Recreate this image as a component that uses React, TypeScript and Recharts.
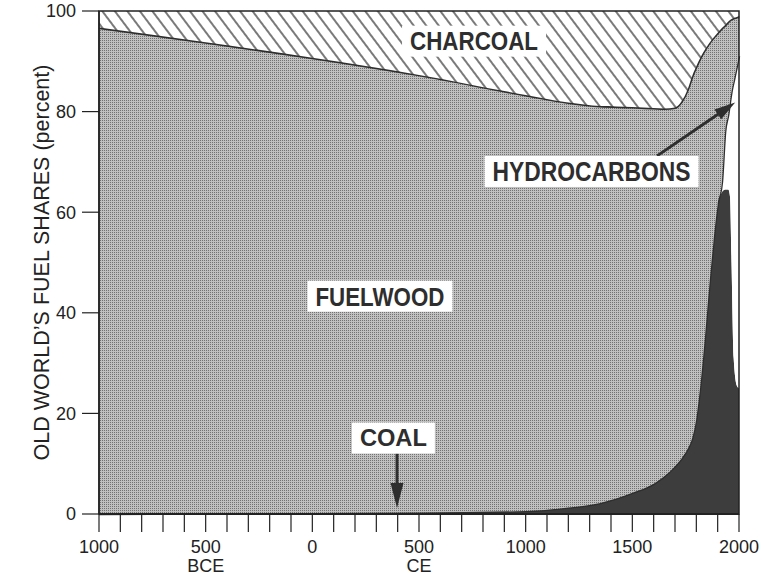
import React from 'react';
import {
    AreaChart, Area, XAxis, YAxis, ReferenceArea, ReferenceDot, ReferenceLine, Label
} from 'recharts';

// shares in percent (bottom to top: coal, hydrocarbons, fuelwood, charcoal)
const years = [-1000, -500, 0, 500, 1000, 1200, 1350, 1500, 1600, 1650, 1700, 1730, 1760, 1780, 1800,
    1820, 1840, 1860, 1880, 1900, 1920, 1935, 1950, 1958, 1965, 1975, 1990, 2000];
const coal = [0, 0.1, 0.2, 0.3, 0.6, 1.3, 2.2, 4.2, 6.0, 7.5, 9.5, 11, 13, 15, 19,
    26, 35, 45, 54, 61, 64, 64.5, 64.5, 63, 50, 31, 25.5, 25];
const hydrocarbons = [0, 0, 0, 0, 0, 0, 0, 0, 0, 0, 0, 0, 0, 0, 0,
    0, 0, 0, 0, 0.5, 2, 11.5, 15, 19, 34, 55, 63.5, 66];
const fuelwood = [96.7, 93.7, 90.5, 87.0, 82.7, 80.5, 78.9, 76.7, 74.7, 73.1, 71.3, 71, 71.5, 72, 70,
    64.8, 57.3, 48.6, 40.7, 34.2, 30.6, 21.2, 18.4, 16.2, 14.4, 12.6, 9.8, 8];
const charcoal = [3.3, 6.2, 9.3, 12.7, 16.7, 18.2, 18.9, 19.1, 19.3, 19.4, 19.2, 18, 15.5, 13, 11,
    9.2, 7.7, 6.4, 5.3, 4.3, 3.4, 2.8, 2.1, 1.8, 1.6, 1.4, 1.2, 1.0];

const xTicks = [-1000, -900, -800, -700, -600, -500, -400, -300, -200, -100, 0, 100, 200, 300, 400, 500,
    600, 700, 800, 900, 1000, 1100, 1200, 1300, 1400, 1500, 1600, 1700, 1800, 1900, 2000];
const yTicks = [0, 20, 40, 60, 80, 100];
const eraLabels: Record<string, string> = { '-500': 'BCE', '500': 'CE' };

const data = years.map((year, i) => ({
    year,
    coal: coal[i],
    hydrocarbons: hydrocarbons[i],
    fuelwood: fuelwood[i],
    charcoal: charcoal[i],
}));

const FONT = '"Liberation Sans", Arial, Helvetica, sans-serif';
const INK = '#2e2e2e';

// in-plot captions (year, share) and their arrows
const captions = [
    { text: 'CHARCOAL', year: 758, share: 94.0, width: 128, size: 25 },
    { text: 'HYDROCARBONS', year: 1309, share: 68.1, width: 198, size: 27 },
    { text: 'FUELWOOD', year: 317, share: 43.3, width: 129, size: 26 },
    { text: 'COAL', year: 380, share: 15.1, width: 67, size: 23 },
];
const arrows = [
    { from: [1616, 71.2], to: [1982, 81.8], head: 21, spread: 12 },
    { from: [397, 12.0], to: [397, 1.2], head: 25, spread: 13 },
];

const XTick = (props: any) => {
    const { x, y, payload } = props;
    const v = payload.value;
    if (v % 500 !== 0) return <g />;
    const era = eraLabels[String(v)];
    return (
        <g fontFamily={FONT} fontSize={18} fill="#222">
            <text x={x} y={y + 19} textAnchor="middle">{Math.abs(v)}</text>
            {era && <text x={x} y={y + 38} textAnchor="middle">{era}</text>}
        </g>
    );
};

const Caption = (props: any) => {
    const { cx, cy, text, width, size } = props;
    const w = width + 16;
    const h = 31;
    return (
        <g>
            <rect x={cx - w / 2} y={cy - h / 2} width={w} height={h} fill="#fff" />
            <text x={cx} y={cy + size * 0.36} textAnchor="middle" fontFamily={FONT} fontWeight="bold"
                fontSize={size} fill={INK} textLength={width} lengthAdjust="spacingAndGlyphs">{text}</text>
        </g>
    );
};

const Arrow = (props: any) => {
    const { x1, y1, x2, y2, head, spread } = props;
    const dx = x2 - x1, dy = y2 - y1;
    const len = Math.hypot(dx, dy) || 1;
    const ux = dx / len, uy = dy / len;
    const bx = x2 - ux * head, by = y2 - uy * head;
    const px = -uy * spread / 2, py = ux * spread / 2;
    return (
        <g>
            <line x1={x1} y1={y1} x2={bx + ux * 2} y2={by + uy * 2} stroke={INK} strokeWidth={3} />
            <polygon points={`${x2},${y2} ${bx + px},${by + py} ${bx - px},${by - py}`} fill={INK} />
        </g>
    );
};

const YTitle = (props: any) => {
    const vb = props.viewBox || { x: 0, y: 11, width: 99, height: 503 };
    const x = vb.x + 49;
    const y = vb.y + vb.height / 2;
    return (
        <text x={x} y={y} transform={`rotate(-90, ${x}, ${y})`} textAnchor="middle"
            fontFamily={FONT} fontSize={21.5} fill="#222">OLD WORLD’S FUEL SHARES (percent)</text>
    );
};

export default function App() {
    return (
        <div style={{ position: 'absolute', left: 0, top: 0, background: '#fff' }}>
            <AreaChart width={762} height={577} data={data}
                margin={{ top: 11, right: 23, bottom: 0, left: 0 }}>
                <defs>
                    <pattern id="hatch" patternUnits="userSpaceOnUse" width="10" height="10"
                        patternTransform="rotate(-37)">
                        <rect width="10" height="10" fill="#fff" />
                        <line x1="5" y1="-1" x2="5" y2="11" stroke="#333" strokeWidth="1.3" />
                    </pattern>
                    <pattern id="stipple" patternUnits="userSpaceOnUse" width="2" height="2">
                        <rect width="2" height="2" fill="#c0c0c0" />
                        <rect width="1" height="1" fill="#727272" />
                    </pattern>
                </defs>
                <XAxis
                    dataKey="year"
                    type="number"
                    domain={[-1000, 2000]}
                    ticks={xTicks}
                    interval={0}
                    height={63}
                    tickSize={18}
                    tickMargin={2}
                    tick={<XTick />}
                    stroke="#222"
                    axisLine={{ stroke: '#222', strokeWidth: 2 }}
                    tickLine={{ stroke: '#222', strokeWidth: 1.2 }}
                />
                <YAxis
                    type="number"
                    domain={[0, 100]}
                    ticks={yTicks}
                    width={99}
                    tickSize={17}
                    tickMargin={6}
                    tick={{ fontFamily: FONT, fontSize: 18, fill: '#222' }}
                    axisLine={{ stroke: '#222', strokeWidth: 1.5 }}
                    tickLine={{ stroke: '#222', strokeWidth: 1.2 }}
                >
                    <Label content={<YTitle />} />
                </YAxis>
                <Area type="monotone" dataKey="coal" stackId="1" fill="#3d3d3d" fillOpacity={1}
                    stroke="none" isAnimationActive={false} />
                <Area type="monotone" dataKey="hydrocarbons" stackId="1" fill="#fff" fillOpacity={1}
                    stroke={INK} strokeWidth={2.5} isAnimationActive={false} />
                <Area type="monotone" dataKey="fuelwood" stackId="1" fill="url(#stipple)" fillOpacity={1}
                    stroke={INK} strokeWidth={3} isAnimationActive={false} />
                <Area type="monotone" dataKey="charcoal" stackId="1" fill="url(#hatch)" fillOpacity={1}
                    stroke="none" isAnimationActive={false} />
                <ReferenceArea x1={-1000} x2={2000} y1={0} y2={100} fill="none" fillOpacity={0}
                    stroke="#222" strokeWidth={1.5} />
                {arrows.map((a, i) => (
                    <ReferenceLine key={`arrow-${i}`}
                        segment={[{ x: a.from[0], y: a.from[1] }, { x: a.to[0], y: a.to[1] }]}
                        shape={(p: any) => <Arrow {...p} head={a.head} spread={a.spread} />} />
                ))}
                {captions.map((c) => (
                    <ReferenceDot key={c.text} x={c.year} y={c.share} r={0}
                        shape={(p: any) => <Caption {...p} text={c.text} width={c.width} size={c.size} />} />
                ))}
            </AreaChart>
        </div>
    );
}
